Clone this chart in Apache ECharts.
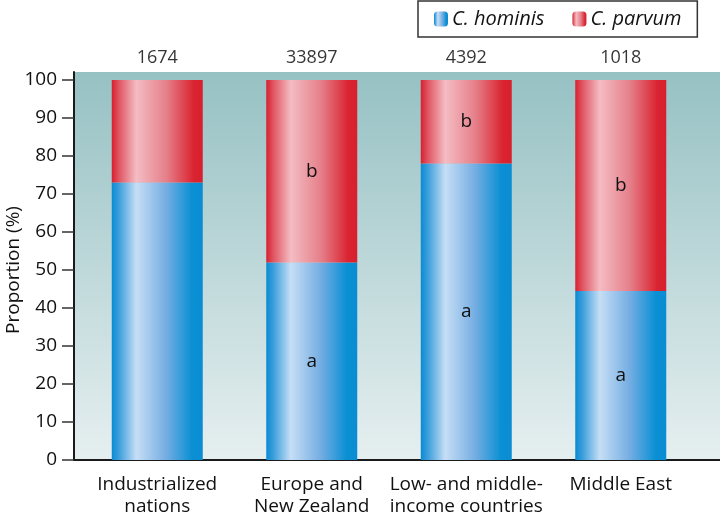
<!DOCTYPE html>
<html>
<head>
<meta charset="utf-8">
<script src="https://cdn.jsdelivr.net/npm/echarts@6/dist/echarts.min.js"></script>
<style>html,body{margin:0;padding:0;background:#fff;}#c{width:720px;height:512px;}</style>
</head>
<body>
<div id="c"></div>
<script>
var categories = ['Industrialized\nnations', 'Europe and\nNew Zealand', 'Low- and middle-\nincome countries', 'Middle East'];
var hominis = [73, 52, 78, 44.5];
var parvum = [27, 48, 22, 55.5];
var totals = ['1674', '33897', '4392', '1018'];
var hominisLetters = ['', 'a', 'a', 'a'];
var parvumLetters = ['', 'b', 'b', 'b'];
var topLine = [100, 100, 100, 100];

var FONT = 'Open Sans';
var TXT = '#111';
var blueGrad = {type:'linear', x:0, y:0, x2:1, y2:0, colorStops:[
  {offset:0, color:'#0a8ad2'}, {offset:0.08, color:'#3c9fdc'}, {offset:0.27, color:'#c6def5'},
  {offset:0.6, color:'#74ade2'}, {offset:0.88, color:'#0b90d4'}, {offset:1, color:'#0a8cd2'}]};
var redGrad = {type:'linear', x:0, y:0, x2:1, y2:0, colorStops:[
  {offset:0, color:'#d8202f'}, {offset:0.08, color:'#e05663'}, {offset:0.27, color:'#f4bcc3'},
  {offset:0.6, color:'#e5808a'}, {offset:0.9, color:'#da2431'}, {offset:1, color:'#d81f2d'}]};

var chart = echarts.init(document.getElementById('c'));
chart.setOption({
  animation: false,
  textStyle: {fontFamily: FONT},
  legend: {
    data: ['C. hominis', 'C. parvum'],
    left: 418, top: 1,
    padding: [8, 16, 8, 16],
    itemWidth: 14, itemHeight: 15, itemGap: 28,
    borderColor: '#333', borderWidth: 1.5, backgroundColor: '#fff',
    textStyle: {fontFamily: FONT, fontStyle: 'italic', fontSize: 20, color: TXT, padding: [0,0,0,-1]}
  },
  grid: [
    {left: 80, right: 22, top: 80, bottom: 52, outerBoundsMode: 'none', containLabel: false},
    {left: 74, right: 0, top: 72, bottom: 52, outerBoundsMode: 'none', containLabel: false,
     show: true, borderWidth: 0,
     backgroundColor: {type:'linear', x:0, y:0, x2:0, y2:1, colorStops:[
       {offset:0, color:'#96c1c3'}, {offset:1, color:'#e6eff0'}]}}
  ],
  xAxis: [
    {type: 'category', gridIndex: 0, data: categories,
     axisLine: {show: false}, axisTick: {show: false},
     axisLabel: {fontFamily: FONT, fontSize: 19, color: TXT, lineHeight: 22, margin: 14, interval: 0}},
    {type: 'value', gridIndex: 1, min: 0, max: 1, show: true,
     axisLine: {show: true, lineStyle: {color: '#1a1a1a', width: 2}},
     axisTick: {show: false}, axisLabel: {show: false}, splitLine: {show: false}}
  ],
  yAxis: [
    {type: 'value', gridIndex: 0, min: 0, max: 100, interval: 10, offset: 6,
     name: 'Proportion (%)', nameLocation: 'middle', nameGap: 51, nameMoveOverlap: false,
     nameTextStyle: {fontFamily: FONT, fontSize: 19, color: TXT},
     axisLine: {show: false},
     axisTick: {show: true, length: 12, lineStyle: {color: '#333', width: 1.5}},
     axisLabel: {fontFamily: FONT, fontSize: 19, color: TXT, margin: 17},
     splitLine: {show: false}},
    {type: 'value', gridIndex: 1, min: 0, max: 1,
     axisLine: {show: true, lineStyle: {color: '#1a1a1a', width: 2}},
     axisTick: {show: false}, axisLabel: {show: false}, splitLine: {show: false}}
  ],
  series: [
    {name: 'C. hominis', type: 'bar', stack: 's', barWidth: 91, data: hominis,
     xAxisIndex: 0, yAxisIndex: 0,
     itemStyle: {color: blueGrad},
     label: {show: true, position: 'inside', fontFamily: FONT, fontSize: 19, color: TXT,
       formatter: function(p){ return hominisLetters[p.dataIndex]; }}},
    {name: 'C. parvum', type: 'bar', stack: 's', barWidth: 91, data: parvum,
     xAxisIndex: 0, yAxisIndex: 0,
     itemStyle: {color: redGrad},
     label: {show: true, position: 'inside', fontFamily: FONT, fontSize: 19, color: TXT,
       formatter: function(p){ return parvumLetters[p.dataIndex]; }}},
    {name: 'totals', type: 'scatter', data: topLine, symbolSize: 0,
     xAxisIndex: 0, yAxisIndex: 0, silent: true,
     label: {show: true, position: 'top', distance: 13, fontFamily: FONT, fontSize: 18, color: '#000',
       formatter: function(p){ return totals[p.dataIndex]; }}}
  ]
});
</script>
</body>
</html>
